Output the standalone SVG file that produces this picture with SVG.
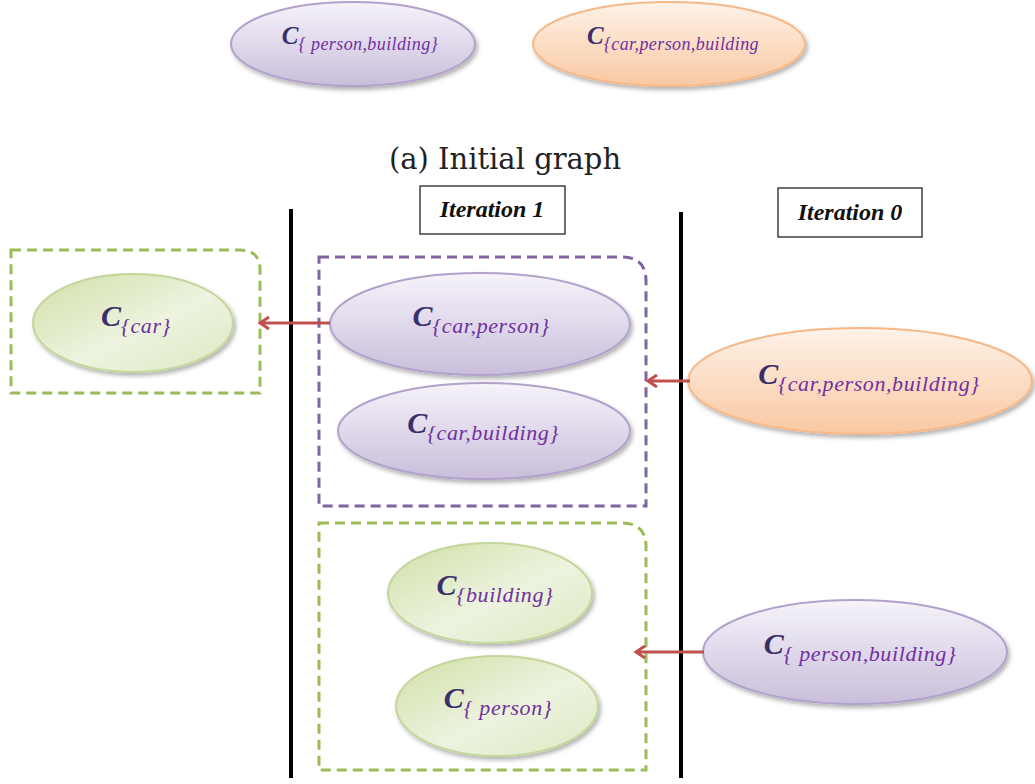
<svg xmlns="http://www.w3.org/2000/svg" width="1035" height="784" viewBox="0 0 1035 784">
<style>
.cap{font-family:"DejaVu Serif","Liberation Serif",serif;font-size:29px;fill:#222}
.it{font-family:"Liberation Serif",serif;font-size:24px;font-weight:bold;font-style:italic;fill:#111}
.lbl{font-family:"Liberation Serif","DejaVu Serif",serif;font-style:italic;text-anchor:middle}
.C{font-size:30px;font-weight:bold;fill:#3b2f6b}
.s{font-size:22px;fill:#7030a0;letter-spacing:0.6px}
.Ct{font-size:25px;font-weight:bold;fill:#3b2f6b}
.st{font-size:18px;fill:#7030a0;letter-spacing:0.4px}
.pur{fill:url(#gp);stroke:#b2a1cb;stroke-width:2;filter:url(#sh)}
.grn{fill:url(#gg);stroke:#c3d69b;stroke-width:2;filter:url(#sh)}
.org{fill:url(#go);stroke:#f6b888;stroke-width:2;filter:url(#sh)}
.dg{fill:none;stroke:#9bbb59;stroke-width:3;stroke-dasharray:10 6}
.dp{fill:none;stroke:#8064a2;stroke-width:3;stroke-dasharray:10 6}
.vl{stroke:#000;stroke-width:4}
.ar{stroke:#c0504d;stroke-width:3;fill:none;marker-end:url(#ah)}
.box{fill:#fff;stroke:#222;stroke-width:1.3}
</style>
<defs>
<linearGradient id="gp" x1="0" y1="0" x2="0" y2="1"><stop offset="0" stop-color="#f6f3fa"/><stop offset="1" stop-color="#c9bedb"/></linearGradient>
<linearGradient id="go" x1="0" y1="0" x2="0" y2="1"><stop offset="0" stop-color="#fef2e8"/><stop offset="1" stop-color="#f9c8a2"/></linearGradient>
<linearGradient id="gg" x1="0" y1="0" x2="1" y2="1"><stop offset="0" stop-color="#cfe0a6"/><stop offset="0.55" stop-color="#edf3df"/><stop offset="1" stop-color="#dde9c2"/></linearGradient>
<filter id="sh" x="-10%" y="-10%" width="125%" height="130%"><feDropShadow dx="2" dy="3" stdDeviation="2" flood-color="#000" flood-opacity="0.3"/></filter>
<marker id="ah" markerWidth="14" markerHeight="14" refX="12" refY="7" orient="auto" markerUnits="userSpaceOnUse"><polyline points="3,1 12,7 3,13" fill="none" stroke="#c0504d" stroke-width="3"/></marker>
</defs>

<g id="init-pb"><ellipse class="pur" cx="353" cy="44" rx="122" ry="42"/><text class="lbl" x="360" y="44"><tspan class="Ct">C</tspan><tspan class="st" dy="6">{ person,building}</tspan></text></g>
<g id="init-cpb"><ellipse class="org" cx="669" cy="44" rx="136" ry="42"/><text class="lbl" x="673" y="44"><tspan class="Ct">C</tspan><tspan class="st" dy="6">{car,person,building</tspan></text></g>
<text class="cap" x="505" y="169" text-anchor="middle">(a) Initial graph</text>

<g id="iter1"><rect class="box" x="420" y="186" width="145" height="48"/><text class="it" x="492" y="217" text-anchor="middle">Iteration 1</text></g>
<g id="iter0"><rect class="box" x="778" y="188" width="144" height="49"/><text class="it" x="850" y="220" text-anchor="middle">Iteration 0</text></g>

<line class="vl" x1="291" y1="209" x2="291" y2="778"/>
<line class="vl" x1="681" y1="212" x2="681" y2="778"/>

<g id="grp-car"><path class="dg" d="M11,250 H240 Q260,250 260,270 V393 H11 Z"/></g>
<g id="grp-cp"><path class="dp" d="M319,257 H622 Q646,257 646,281 V506 H319 Z"/></g>
<g id="grp-bp"><path class="dg" d="M319,523 H622 Q646,523 646,547 V770 H319 Z"/></g>

<g id="n-car"><ellipse class="grn" cx="133" cy="323" rx="100" ry="49"/><text class="lbl" x="136" y="326"><tspan class="C">C</tspan><tspan class="s" dy="7">{car}</tspan></text></g>
<g id="n-cp"><ellipse class="pur" cx="480" cy="324" rx="150" ry="51"/><text class="lbl" x="481" y="326"><tspan class="C">C</tspan><tspan class="s" dy="7">{car,person}</tspan></text></g>
<g id="n-cb"><ellipse class="pur" cx="484" cy="431" rx="146" ry="48"/><text class="lbl" x="483" y="433"><tspan class="C">C</tspan><tspan class="s" dy="7">{car,building}</tspan></text></g>
<g id="n-cpb"><ellipse class="org" cx="860" cy="381" rx="172" ry="53"/><text class="lbl" x="869" y="384"><tspan class="C">C</tspan><tspan class="s" dy="7">{car,person,building}</tspan></text></g>
<g id="n-b"><ellipse class="grn" cx="490" cy="593" rx="102" ry="50"/><text class="lbl" x="495" y="595"><tspan class="C">C</tspan><tspan class="s" dy="7">{building}</tspan></text></g>
<g id="n-p"><ellipse class="grn" cx="497" cy="706" rx="101" ry="50"/><text class="lbl" x="498" y="708"><tspan class="C">C</tspan><tspan class="s" dy="7">{ person}</tspan></text></g>
<g id="n-pb"><ellipse class="pur" cx="855" cy="652" rx="152" ry="52"/><text class="lbl" x="860" y="654"><tspan class="C">C</tspan><tspan class="s" dy="7">{ person,building}</tspan></text></g>

<g id="connectors">
<line class="ar" x1="330" y1="323" x2="260" y2="323"/>
<line class="ar" x1="690" y1="381" x2="648" y2="381"/>
<line class="ar" x1="704" y1="652" x2="636" y2="652"/>
</g>
</svg>
